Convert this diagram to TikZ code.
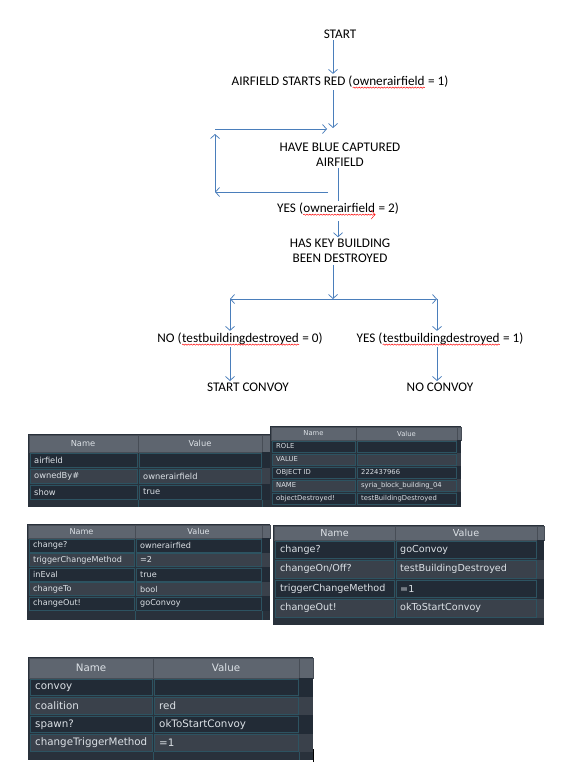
\documentclass[tikz,border=0pt]{standalone}
\usepackage{fontspec}
\setmainfont{Carlito}
\newfontfamily\uifont{DejaVu Sans}
\usetikzlibrary{positioning,arrows.meta,decorations.pathmorphing}

\definecolor{flowblue}{HTML}{4A7EBB}
\definecolor{rowdark}{HTML}{222B36}
\definecolor{rowlight}{HTML}{3A414B}
\definecolor{cellline}{HTML}{2D5361}
\definecolor{headfill}{HTML}{5E656F}
\definecolor{headline}{HTML}{474D56}
\definecolor{tableback}{HTML}{29313B}
\definecolor{celltext}{HTML}{DCE1E6}

\newcommand\spellwave[1]{\tikz[baseline=(word.base)]{\node[inner sep=0pt] (word) {#1};
  \draw[red,line width=0.45pt,decorate,decoration={snake,amplitude=0.6pt,segment length=2.8pt}]
    ([yshift=-2.4pt]word.base west) -- ([yshift=-2.4pt]word.base east);}}

\begin{document}
\begin{tikzpicture}[x=1pt,y=-1pt,node distance=48pt,
    flow node/.style={font=\fontsize{13.2}{15.5}\selectfont,align=center,inner sep=1.5pt},
    flow arrow/.style={draw=flowblue,line width=0.75pt,-{Straight Barb[length=4pt,width=9pt]}},
    head cell/.style={draw=headline,fill=headfill,line width=0.6pt},
    cell/.style={draw=cellline,line width=0.6pt},
    head text/.style={text=celltext,inner sep=0pt},
    cell text/.style={text=celltext,inner sep=0pt,anchor=west}]
\path[use as bounding box,fill=white] (0,0) rectangle (576,776);

% flow chart
\node[flow node] (start) at (340,34) {START};
\node[flow node] (red) [below of=start] {AIRFIELD STARTS RED (\spellwave{ownerairfield} = 1)};
\node[flow node] (blue) [below of=red,node distance=72.5pt] {HAVE BLUE CAPTURED\\AIRFIELD};
\node[flow node] (keybldg) [below of=blue,node distance=96.5pt] {HAS KEY BUILDING\\BEEN DESTROYED};
\node[flow node] (nodest) [below of=keybldg,node distance=88pt,xshift=-100pt] {NO (\spellwave{testbuildingdestroyed} = 0)};
\node[flow node] (yesdest) [below of=keybldg,node distance=88pt,xshift=100pt] {YES (\spellwave{testbuildingdestroyed} = 1)};
\node[flow node] (convoy) [below of=nodest,xshift=8pt] {START CONVOY};
\node[flow node] (noconvoy) [below of=yesdest] {NO CONVOY};

\coordinate (spine) at (333,0);
\coordinate (outx) at (338,0);
\coordinate (bluein) at (333,128);
\coordinate (looptop) at (215,129);
\coordinate (loopbot) at (215,192);
\coordinate (loopout) at (328,192);
\coordinate (split) at (333,299);
\coordinate (lsplit) at (230,299);
\coordinate (rsplit) at (437,299);

\draw[flow arrow] (start.south -| spine) -- (red.north -| spine);
\draw[flow arrow] (red.south -| spine) -- (bluein);
\draw[flow arrow] (loopout) -- (loopbot);
\draw[flow arrow] (loopbot) -- ([yshift=-5pt]looptop);
\draw[flow arrow] (looptop) -- ([xshift=-6pt]bluein |- looptop);
\path (blue.south -| outx) edge[flow arrow] node[flow node,fill=white,pos=.62] {YES (\spellwave{ownerairfield} = 2)} (keybldg.north -| outx);
\draw[flow arrow] (keybldg.south -| spine) -- (split);
\draw[flow arrow] (split) -- (lsplit);
\draw[flow arrow] (split) -- (rsplit);
\draw[flow arrow] (lsplit) -- (nodest.north -| lsplit);
\draw[flow arrow] (rsplit) -- (yesdest.north -| rsplit);
\draw[flow arrow] (nodest.south -| lsplit) -- (convoy.north -| lsplit);
\draw[flow arrow] (yesdest.south -| rsplit) -- (noconvoy.north -| rsplit);

% airfield properties
\begin{scope}[font=\uifont\fontsize{8.3}{10}\selectfont]
\fill[tableback] (28,434) rectangle (270,507);
\draw[head cell] (29,435) rectangle (138,452);
\draw[head cell] (138,435) rectangle (262,452);
\draw[head cell] (262,435) rectangle (270,452);
\node[head text] (t1name) at (83,443.5) {Name};
\node[head text] (t1value) at (200,443.5) {Value};
\draw[cellline] (138,500) -- (138,507) (262,500) -- (262,507);
\foreach \nm/\val [count=\i from 0] in {airfield/{}, ownedBy\#/ownerairfield, show/true}{
  \pgfmathsetmacro{\yy}{452+16*\i}
  \ifodd\i \def\rc{rowlight}\else\def\rc{rowdark}\fi
  \fill[\rc] (262,\yy) rectangle (270,\yy+16);
  \draw[cell,fill=\rc] (30,\yy+1) rectangle (137,\yy+15);
  \draw[cell,fill=\rc] (139,\yy+1) rectangle (261,\yy+15);
  \node[cell text] (t1n\i) at (34,\yy+8) {\nm};
  \node[cell text] (t1v\i) at (143,\yy+8) {\val};
}
\end{scope}

% building properties
\begin{scope}[font=\uifont\fontsize{6.8}{8}\selectfont]
\fill[tableback] (270,426) rectangle (461,507);
\draw[head cell] (271,427) rectangle (356,440);
\draw[head cell] (356,427) rectangle (457,440);
\draw[head cell] (457,427) rectangle (461,440);
\node[head text] (t2name) at (313.5,433.5) {Name};
\node[head text] (t2value) at (406.5,433.5) {Value};
\foreach \nm/\val [count=\i from 0] in {ROLE/{}, VALUE/{}, OBJECT ID/222437966, NAME/syria\_block\_building\_04, objectDestroyed!/testBuildingDestroyed}{
  \pgfmathsetmacro{\yy}{440+13*\i}
  \ifodd\i \def\rc{rowlight}\else\def\rc{rowdark}\fi
  \fill[\rc] (457,\yy) rectangle (461,\yy+13);
  \draw[cell,fill=\rc] (272,\yy+0.8) rectangle (355,\yy+12.2);
  \draw[cell,fill=\rc] (357,\yy+0.8) rectangle (456,\yy+12.2);
  \node[cell text] (t2n\i) at (276,\yy+6.5) {\nm};
  \node[cell text] (t2v\i) at (361,\yy+6.5) {\val};
}
\end{scope}

% trigger properties
\begin{scope}[font=\uifont\fontsize{8.1}{10}\selectfont]
\fill[tableback] (27,524) rectangle (270,620);
\draw[head cell] (28,525) rectangle (135,538);
\draw[head cell] (135,525) rectangle (262,538);
\draw[head cell] (262,525) rectangle (270,538);
\node[head text] (t3name) at (81.5,531.5) {Name};
\node[head text] (t3value) at (198.5,531.5) {Value};
\draw[cellline] (135,611) -- (135,620) (262,611) -- (262,620);
\foreach \nm/\val [count=\i from 0] in {change?/ownerairfied, triggerChangeMethod/{=2}, inEval/true, changeTo/bool, changeOut!/goConvoy}{
  \pgfmathsetmacro{\yy}{538+14.6*\i}
  \ifodd\i \def\rc{rowlight}\else\def\rc{rowdark}\fi
  \fill[\rc] (262,\yy) rectangle (270,\yy+14.6);
  \draw[cell,fill=\rc] (29,\yy+0.8) rectangle (134,\yy+13.8);
  \draw[cell,fill=\rc] (136,\yy+0.8) rectangle (261,\yy+13.8);
  \node[cell text] (t3n\i) at (33,\yy+7.3) {\nm};
  \node[cell text] (t3v\i) at (140,\yy+7.3) {\val};
}
\end{scope}

% convoy switch properties
\begin{scope}[font=\uifont\fontsize{9.6}{12}\selectfont]
\fill[tableback] (273,525) rectangle (544,625);
\draw[head cell] (274,526) rectangle (395,540);
\draw[head cell] (395,526) rectangle (537,540);
\draw[head cell] (537,526) rectangle (544,540);
\node[head text] (t4name) at (334.5,533) {Name};
\node[head text] (t4value) at (466,533) {Value};
\foreach \nm/\val [count=\i from 0] in {change?/goConvoy, {changeOn/Off?}/testBuildingDestroyed, triggerChangeMethod/{=1}, changeOut!/okToStartConvoy}{
  \pgfmathsetmacro{\yy}{540+19.5*\i}
  \ifodd\i \def\rc{rowlight}\else\def\rc{rowdark}\fi
  \fill[\rc] (537,\yy) rectangle (544,\yy+19.5);
  \draw[cell,fill=\rc] (275,\yy+1) rectangle (394,\yy+18.5);
  \draw[cell,fill=\rc] (396,\yy+1) rectangle (536,\yy+18.5);
  \node[cell text] (t4n\i) at (280,\yy+9.75) {\nm};
  \node[cell text] (t4v\i) at (400,\yy+9.75) {\val};
}
\end{scope}

% convoy properties
\begin{scope}[font=\uifont\fontsize{10.3}{12}\selectfont]
\fill[tableback] (28,657) rectangle (313,760);
\draw[head cell] (29,658) rectangle (153,678);
\draw[head cell] (153,658) rectangle (299,678);
\draw[head cell] (299,658) rectangle (313,678);
\node[head text] (t5name) at (91,668) {Name};
\node[head text] (t5value) at (226,668) {Value};
\draw[cellline] (153,752) -- (153,760) (299,752) -- (299,760);
\foreach \nm/\val [count=\i from 0] in {convoy/{}, coalition/red, spawn?/okToStartConvoy, changeTriggerMethod/{=1}}{
  \pgfmathsetmacro{\yy}{678+18.5*\i}
  \ifodd\i \def\rc{rowlight}\else\def\rc{rowdark}\fi
  \fill[\rc] (299,\yy) rectangle (313,\yy+18.5);
  \draw[cell,fill=\rc] (30,\yy+1) rectangle (152,\yy+17.5);
  \draw[cell,fill=\rc] (154,\yy+1) rectangle (298,\yy+17.5);
  \node[cell text] (t5n\i) at (35,\yy+9.25) {\nm};
  \node[cell text] (t5v\i) at (159,\yy+9.25) {\val};
}
\end{scope}
\draw[black,line width=1pt] (313.5,749) -- (313.5,762);
\end{tikzpicture}
\end{document}
